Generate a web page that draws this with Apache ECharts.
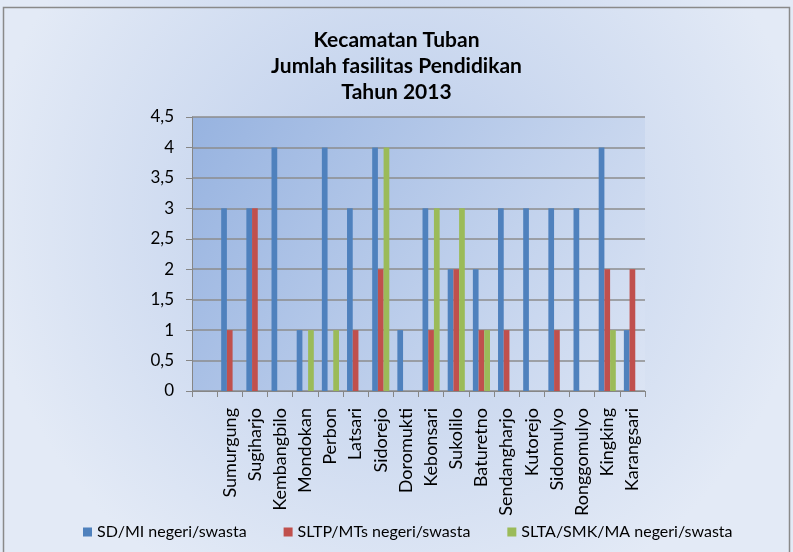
<!DOCTYPE html>
<html>
<head>
<meta charset="utf-8">
<script src="https://cdn.jsdelivr.net/npm/echarts@6/dist/echarts.min.js"></script>
<style>
  html, body { margin: 0; padding: 0; background: #fff; }
  #chart { width: 793px; height: 552px; }
</style>
</head>
<body>
<div id="chart"></div>
<script>
// kecamatan (desa), first slot is empty in the original
var desa = ['', 'Sumurgung', 'Sugiharjo', 'Kembangbilo', 'Mondokan', 'Perbon', 'Latsari', 'Sidorejo',
  'Doromukti', 'Kebonsari', 'Sukolilo', 'Baturetno', 'Sendangharjo', 'Kutorejo', 'Sidomulyo',
  'Ronggomulyo', 'Kingking', 'Karangsari'];

var sdMi = [0, 3, 3, 4, 1, 4, 3, 4, 1, 3, 2, 2, 3, 3, 3, 3, 4, 1];
var sltpMts = [0, 1, 3, 0, 0, 0, 1, 2, 0, 1, 2, 1, 1, 0, 1, 0, 2, 2];
var sltaSmkMa = [0, 0, 0, 0, 1, 1, 0, 4, 0, 3, 3, 1, 0, 0, 0, 0, 1, 0];

var seriesNames = ['SD/MI negeri/swasta', 'SLTP/MTs negeri/swasta', 'SLTA/SMK/MA negeri/swasta'];
var titleText = 'Kecamatan Tuban\nJumlah fasilitas Pendidikan\nTahun 2013';

var fontFam = 'Lato, "Open Sans", sans-serif';

var chart = echarts.init(document.getElementById('chart'));

var option = {
    backgroundColor: {
        type: 'radial', x: 0.5, y: 0.4, r: 0.75,
        colorStops: [
            {offset: 0, color: '#b9cbea'},
            {offset: 1, color: '#e3eaf6'}
        ]
    },
    animation: false,
    graphic: [{
        type: 'rect',
        shape: {x: 3.5, y: 7.5, width: 786, height: 560},
        style: {fill: 'none', stroke: '#8a8a8a', lineWidth: 1.5},
        z: 100
    }],
    title: {
        text: titleText,
        left: 'center',
        top: 22,
        textStyle: {
            fontFamily: fontFam,
            fontSize: 21,
            fontWeight: 'bold',
            color: '#000',
            lineHeight: 26
        }
    },
    legend: {
        top: 519,
        left: 78,
        itemGap: 37,
        itemWidth: 9,
        itemHeight: 9,
        icon: 'rect',
        textStyle: {fontFamily: fontFam, fontSize: 16, color: '#000'},
        data: seriesNames
    },
    grid: {
        left: 192,
        right: 148,
        top: 117,
        bottom: 161,
        show: true,
        borderWidth: 0,
        backgroundColor: {
            type: 'linear', x: 0, y: 0, x2: 1, y2: 1,
            colorStops: [
                {offset: 0, color: '#97b3e0'},
                {offset: 1, color: '#dbe4f4'}
            ]
        }
    },
    xAxis: {
        type: 'category',
        data: desa,
        axisLine: {lineStyle: {color: '#868686'}},
        axisTick: {show: true, length: 6, lineStyle: {color: '#868686'}},
        axisLabel: {
            rotate: 90,
            interval: 0,
            fontFamily: fontFam,
            fontSize: 18,
            color: '#000',
            margin: 17
        }
    },
    yAxis: {
        type: 'value',
        min: 0,
        max: 4.5,
        interval: 0.5,
        axisLine: {show: true, lineStyle: {color: '#868686'}},
        axisTick: {show: true, length: 6, lineStyle: {color: '#868686'}},
        splitLine: {lineStyle: {color: '#8c8c8c', width: 1.5}},
        axisLabel: {
            fontFamily: fontFam,
            fontSize: 17,
            color: '#000',
            margin: 18,
            formatter: function (v) {
                return String(v).replace('.', ',');
            }
        }
    },
    series: [
        {name: seriesNames[0], type: 'bar', data: sdMi, barGap: 0, barCategoryGap: '32%',
            itemStyle: {color: '#4f81bd'}},
        {name: seriesNames[1], type: 'bar', data: sltpMts, barGap: 0, barCategoryGap: '32%',
            itemStyle: {color: '#c0504d'}},
        {name: seriesNames[2], type: 'bar', data: sltaSmkMa, barGap: 0, barCategoryGap: '32%',
            itemStyle: {color: '#9bbb59'}}
    ]
};

chart.setOption(option);
</script>
</body>
</html>
